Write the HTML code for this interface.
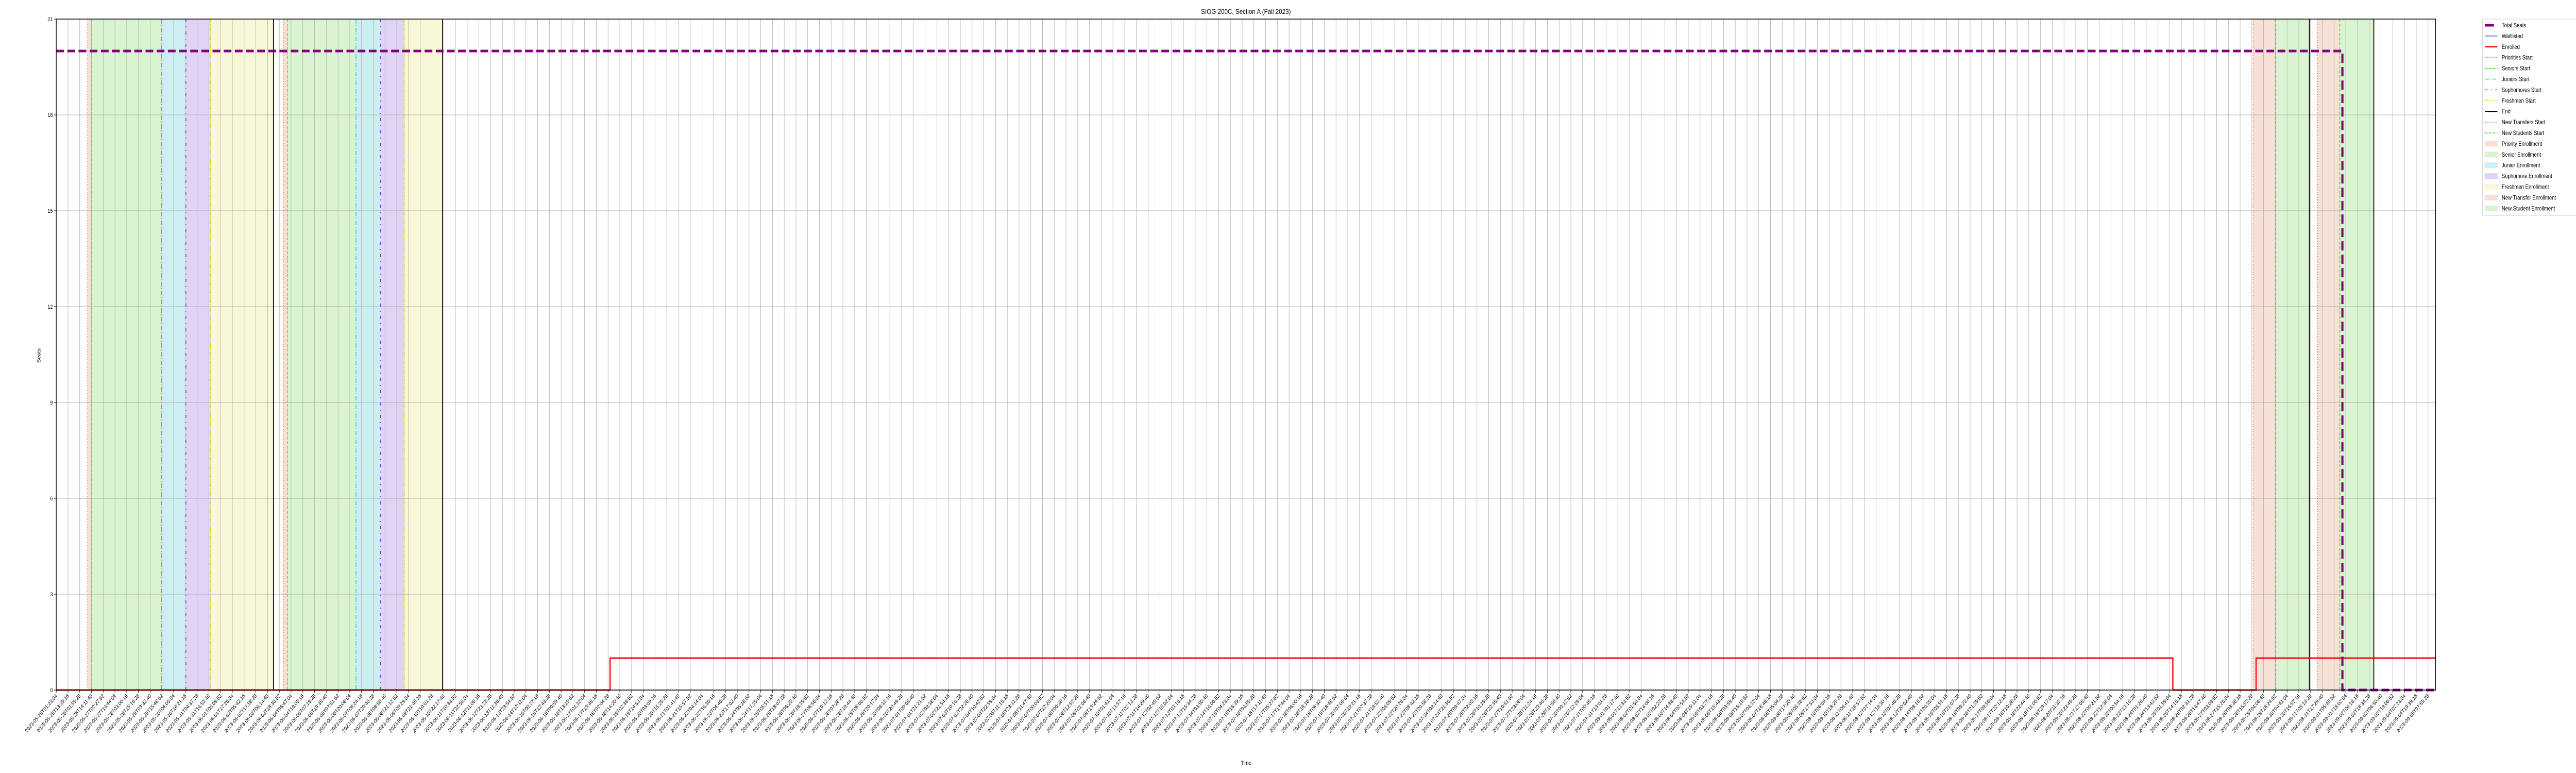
<!DOCTYPE html>
<html><head><meta charset="utf-8">
<style>
html,body{margin:0;padding:0;background:#fff;overflow:hidden;width:100%;height:100%;}
svg{display:block;width:100vw;height:100vh;font-family:"Liberation Sans","DejaVu Sans",sans-serif;}
</style></head>
<body>
<svg id="chart" xmlns="http://www.w3.org/2000/svg" viewBox="0 0 6000 1500" preserveAspectRatio="none">
<rect x="0" y="0" width="6000" height="1500" fill="#fff"/>
<g id="spans"></g>
<g id="grid"></g>
<g id="vlines"></g>
<g id="series"></g>
<g id="axes"></g>
<text x="2902" y="27" font-size="14" text-anchor="middle" fill="#000">SIOG 200C, Section A (Fall 2023)</text>
<text x="2902" y="1484" font-size="11" text-anchor="middle" fill="#000">Time</text>
<text x="94" y="690" font-size="11" text-anchor="middle" fill="#000" transform="rotate(-90 94 690)">Seats</text>
<g id="legend"></g>
</svg>
<script>
// ---- data (hours since 2023-05-25T01:23:04) ----
const startISO = "2023-05-25T01:23:04Z";
const xMaxHours = 2486.5;
const tickStepHours = 12.27;
const tickCount = 203;
const yTicks = [0,3,6,9,12,15,18,21];

// enrolled step series
const enrolledTimes = [0, 578.8, 2211.9, 2298.9, 2486.5];
const enrolledValues = [0, 1, 0, 1, 1];
// waitlisted
const waitTimes = [0, 2486.5];
const waitValues = [0, 0];
// total seats
const seatsTimes = [0, 2389.1, 2389.1, 2486.5];
const seatsValues = [20, 20, 0, 0];

// shaded enrollment periods
const spanStarts = [32.8, 37.2, 109.9, 135.5, 161.1, 237.3, 241.4, 313.2, 338.7, 363.9, 2295.8, 2319.1, 2363.1, 2386.4];
const spanEnds   = [37.2, 109.9, 135.5, 161.1, 227.0, 241.4, 313.2, 338.7, 363.9, 403.8, 2319.1, 2354.6, 2386.4, 2421.9];
const spanKinds  = ["priority","senior","junior","soph","fresh","priority","senior","junior","soph","fresh","priority","senior","transfer","newstudent"];

// event vertical lines
const eventTimes = [32.8, 37.2, 109.9, 135.5, 161.1, 227.0, 237.3, 241.4, 313.2, 338.7, 363.9, 403.8, 2295.8, 2319.1, 2354.6, 2363.1, 2386.4, 2421.9];
const eventKinds = ["prio","senior","junior","soph","fresh","end","prio","senior","junior","soph","fresh","end","prio","senior","end","transfer","newstudent","end"];

// ---- layout ----
const L=131, R=5673, T=37, B=1339, YMAX=21;
const NS="http://www.w3.org/2000/svg";
function xs(h){return L+(h/xMaxHours)*(R-L);}
function ys(v){return B-(v/YMAX)*(B-T);}
function mk(tag,attrs,parent){const e=document.createElementNS(NS,tag);for(const k in attrs)e.setAttribute(k,attrs[k]);parent.appendChild(e);return e;}

const spanFill={priority:"#f7e0d6",senior:"#daf4d2",junior:"#ccf0f2",soph:"#e1d3f5",fresh:"#f8f8d9",transfer:"#f7e0d6",newstudent:"#daf4d2"};
const lineStyle={
 prio:{c:"#ec6d35",d:"2,3",w:1.5},
 senior:{c:"#3ccf1a",d:"6,3",w:1.5},
 junior:{c:"#14c5d0",d:"9,3,2,3",w:1.5},
 soph:{c:"#6c2bd9",d:"6,8,2,8",w:1.5},
 fresh:{c:"#dcdc2c",d:"7,2,2,2,2,2",w:1.5},
 end:{c:"#000",d:"",w:2},
 transfer:{c:"#ec6d35",d:"2,3",w:1.5},
 newstudent:{c:"#3ccf1a",d:"6,3",w:1.5}
};

const gs=document.getElementById('spans');
for(let i=0;i<spanStarts.length;i++){
 const r=mk('rect',{x:xs(spanStarts[i]),y:T,width:xs(spanEnds[i])-xs(spanStarts[i]),height:B-T,fill:spanFill[spanKinds[i]]},gs);
 
 
}

// grid + ticks
const gg=document.getElementById('grid');
const ga=document.getElementById('axes');
const t0=Date.parse(startISO);
function fmt(ms){const d=new Date(ms);const p=n=>String(n).padStart(2,'0');
 return d.getUTCFullYear()+"-"+p(d.getUTCMonth()+1)+"-"+p(d.getUTCDate())+"T"+p(d.getUTCHours())+":"+p(d.getUTCMinutes())+":"+p(d.getUTCSeconds());}
for(let i=0;i<tickCount;i++){
 const h=i*tickStepHours; if(h>xMaxHours) break;
 const x=xs(h);
 const gl=mk('line',{x1:x,x2:x,y1:T,y2:B,stroke:"#b0b0b0","stroke-width":1},gg);
 
 
 mk('line',{x1:x,x2:x,y1:B,y2:B+5,stroke:"#000","stroke-width":1},ga);
 const lbl=fmt(t0+h*3600000);
 const t=mk('text',{x:x+3,y:B+12,"font-size":10.5,"text-anchor":"end",fill:"#000",transform:`rotate(-45 ${x+3} ${B+12})`},ga);
 t.textContent=lbl;
 
 
}
for(const v of yTicks){
 const y=ys(v);
 const gl=mk('line',{x1:L,x2:R,y1:y,y2:y,stroke:"#b0b0b0","stroke-width":1},gg);
 
 
 mk('line',{x1:L-5,x2:L,y1:y,y2:y,stroke:"#000","stroke-width":1},ga);
 const t=mk('text',{x:L-8,y:y+4,"font-size":11,"text-anchor":"end",fill:"#000"},ga);
 t.textContent=String(v);
 
 
}

// event lines
const gv=document.getElementById('vlines');
for(let i=0;i<eventTimes.length;i++){
 const s=lineStyle[eventKinds[i]];const x=xs(eventTimes[i]);
 const a={x1:x,x2:x,y1:T,y2:B,stroke:s.c,"stroke-width":s.w};
 if(s.d)a["stroke-dasharray"]=s.d;
 const l=mk('line',a,gv);
 
 
}

// series
const gser=document.getElementById('series');
function stepPath(ts,vs){let d=`M${xs(ts[0])},${ys(vs[0])}`;
 for(let i=1;i<ts.length;i++){d+=` L${xs(ts[i])},${ys(vs[i-1])} L${xs(ts[i])},${ys(vs[i])}`;}return d;}
function linePath(ts,vs){return ts.map((t,i)=>(i?'L':'M')+xs(t)+','+ys(vs[i])).join(' ');}
const wl=mk('path',{d:linePath(waitTimes,waitValues),stroke:"#2020ff","stroke-width":1.2,fill:"none"},gser);


const el=mk('path',{d:stepPath(enrolledTimes,enrolledValues),stroke:"#ff0000","stroke-width":3,fill:"none","stroke-opacity":0.95},gser);


const sl=mk('path',{d:linePath(seatsTimes,seatsValues),stroke:"#800080","stroke-width":5,fill:"none","stroke-dasharray":"18,8"},gser);



// axes frame
const fr=mk('rect',{x:L,y:T,width:R-L,height:B-T,fill:"none",stroke:"#000","stroke-width":1.5},ga);



// legend
const gl=document.getElementById('legend');
const box=mk('rect',{x:5782,y:37,width:240,height:381,fill:"#fff",stroke:"#d0d0d0","stroke-width":1,rx:2},gl);


const legendLabels=["Total Seats","Waitlisted","Enrolled","Priorities Start","Seniors Start","Juniors Start","Sophomores Start","Freshmen Start","End","New Transfers Start","New Students Start","Priority Enrollment","Senior Enrollment","Junior Enrollment","Sophomore Enrollment","Freshmen Enrollment","New Transfer Enrollment","New Student Enrollment"];
const legendKeys=["seats","wait","enr","prio","senior","junior","soph","fresh","end","transfer","newstudent","priority","senior","junior","soph","fresh","transfer","newstudent"];
for(let i=0;i<legendLabels.length;i++){
 const y=49+i*20.9;
 const g=mk('g',{},gl);
 
 
 const k=legendKeys[i];
 if(i>=11){mk('rect',{x:5788,y:y-5,width:29,height:10,fill:spanFill[k],stroke:spanFill[k]},g);}
 else if(k==="seats"){mk('line',{x1:5788,x2:5809,y1:y,y2:y,stroke:"#800080","stroke-width":5},g);}
 else if(k==="wait"){mk('line',{x1:5788,x2:5817,y1:y,y2:y,stroke:"#2020ff","stroke-width":1.2},g);}
 else if(k==="enr"){mk('line',{x1:5788,x2:5817,y1:y,y2:y,stroke:"#ff0000","stroke-width":2.5},g);}
 else{const s=lineStyle[k];const a={x1:5788,x2:5817,y1:y,y2:y,stroke:s.c,"stroke-width":s.w};if(s.d)a["stroke-dasharray"]=s.d;mk('line',a,g);}
 const t=mk('text',{x:5827,y:y+4,"font-size":11.5,fill:"#000"},g);
 t.textContent=legendLabels[i];
}
</script>
</body></html>
